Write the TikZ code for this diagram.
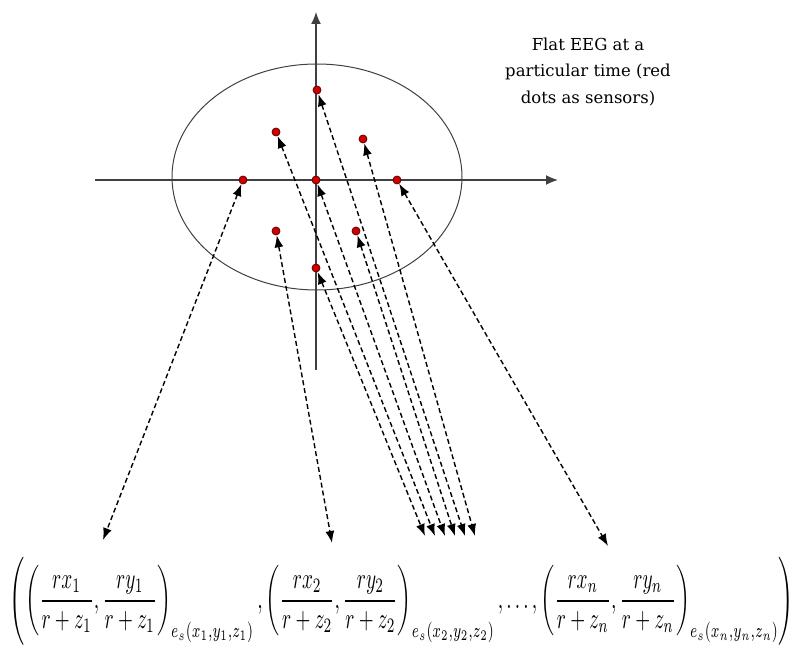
\documentclass[tikz,border=0pt]{standalone}
\usepackage{fontspec}
\usepackage{amsmath}
\setmainfont{DejaVu Serif}
\usetikzlibrary{arrows.meta}

\begin{document}
\begin{tikzpicture}[x=1pt, y=-1pt,
  axis/.style={draw=black!75, line width=1.4pt, -{Latex[length=12pt,width=10pt]}},
  head/.style={draw=black!75, line width=1pt},
  sensor/.style={circle, inner sep=0pt, minimum size=8pt, fill=red!80!black, draw=black!60!red,
                 line width=0.8pt},
  link/.style={dashed, line width=1.4pt, dash pattern=on 5pt off 3pt,
               {Latex[length=12pt,width=9pt]}-{Latex[length=12pt,width=9pt]}},
  note/.style={align=center, font=\fontsize{16.5}{26.5}\selectfont},
]
  \useasboundingbox (0,0) rectangle (795,647);

  % head outline and axes
  \draw[head] (317,177) ellipse [x radius=145pt, y radius=113pt];
  \coordinate (xl) at (95,180);   \coordinate (xr) at (558,180);
  \coordinate (yb) at (316,370);  \coordinate (yt) at (316,12);
  \draw[axis] (xl) -- (xr);
  \draw[axis] (yb) -- (yt);

  \node[note] (lbl) at (588,72) {Flat EEG at a\\ particular time (red\\ dots as sensors)};

  % sensors
  \node[sensor] (top) at (317,90)  {};
  \node[sensor] (ul)  at (276,132) {};
  \node[sensor] (ur)  at (363,139) {};
  \node[sensor] (lft) at (243,180) {};
  \node[sensor] (ctr) at (316,180) {};
  \node[sensor] (rgt) at (397,180) {};
  \node[sensor] (ll)  at (276,231) {};
  \node[sensor] (lr)  at (356,231) {};
  \node[sensor] (bot) at (316,268) {};

  % projected ends
  \coordinate (p1) at (103,540);
  \coordinate (p2) at (332,543);
  \coordinate (pn) at (608,546);
  \coordinate (q1) at (425,536);
  \coordinate (q2) at (435,536);
  \coordinate (q3) at (445,536);
  \coordinate (q4) at (455,536);
  \coordinate (q5) at (465,536);
  \coordinate (q6) at (475,536);

  \draw[link] (lft) -- (p1);
  \draw[link] (ll)  -- (p2);
  \draw[link] (rgt) -- (pn);
  \draw[link] (bot) -- (q1);
  \draw[link] (ul)  -- (q2);
  \draw[link] (ctr) -- (q3);
  \draw[link] (lr)  -- (q4);
  \draw[link] (top) -- (q5);
  \draw[link] (ur)  -- (q6);

  % projected coordinates
  \node[inner sep=0pt] (proj) at (402,601) {\resizebox*{784pt}{88pt}{$\displaystyle
    \Biggl(\left(\frac{rx_1}{r+z_1},\frac{ry_1}{r+z_1}\right)_{e_s(x_1,y_1,z_1)},
    \left(\frac{rx_2}{r+z_2},\frac{ry_2}{r+z_2}\right)_{e_s(x_2,y_2,z_2)},\ldots,
    \left(\frac{rx_n}{r+z_n},\frac{ry_n}{r+z_n}\right)_{e_s(x_n,y_n,z_n)}\Biggr)$}};
\end{tikzpicture}
\end{document}
